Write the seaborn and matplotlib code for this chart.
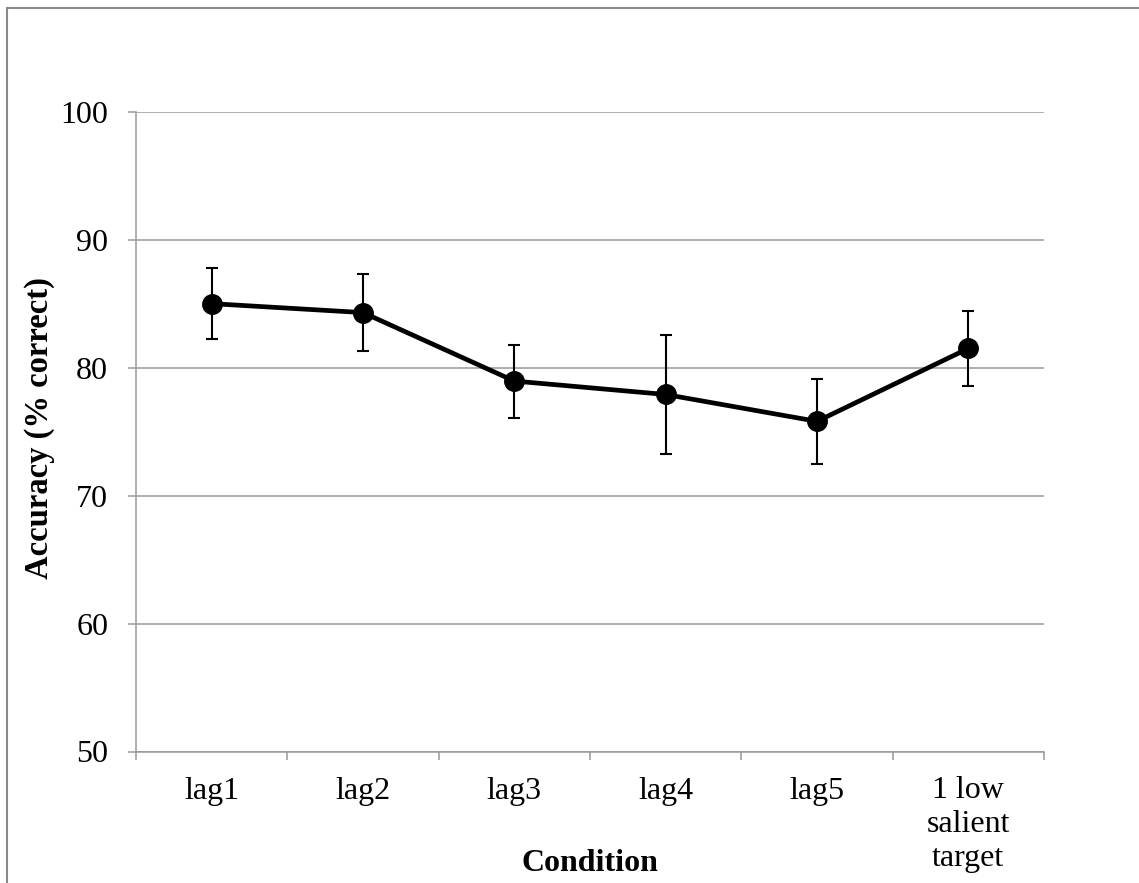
import numpy as np
import pandas as pd
import seaborn as sns
import matplotlib.pyplot as plt
from matplotlib.lines import Line2D

# values
conditions = ['lag1', 'lag2', 'lag3', 'lag4', 'lag5', '1 low\nsalient\ntarget']
accuracy = [85.0, 84.3, 78.95, 77.9, 75.8, 81.5]
sem = [2.8, 3.0, 2.85, 4.65, 3.3, 2.9]
y_ticks = [50, 60, 70, 80, 90, 100]

grid_grey = '#989898'

sns.set_style('white')
plt.rcParams['font.family'] = ['Liberation Serif', 'DejaVu Serif']
plt.rcParams['text.color'] = 'black'
plt.rcParams['xtick.labelcolor'] = 'black'
plt.rcParams['ytick.labelcolor'] = 'black'
plt.rcParams['axes.labelcolor'] = 'black'

df = pd.DataFrame({'Condition': conditions, 'Accuracy': accuracy})

fig = plt.figure(figsize=(11.39, 8.83), dpi=100)
ax = fig.add_axes([136 / 1139, 1 - 751.5 / 883, (1044 - 136) / 1139, (751.5 - 111.7) / 883])

ax.set_ylim(50, 100)
ax.set_yticks(y_ticks)
ax.yaxis.grid(True, color=grid_grey, linewidth=1.1)
ax.set_axisbelow(True)

sns.pointplot(data=df, x='Condition', y='Accuracy', color='black', ax=ax,
              markers='o', markersize=12.5, linewidth=3.4, errorbar=None)
ax.errorbar(np.arange(len(conditions)), accuracy, yerr=sem, fmt='none',
            ecolor='black', elinewidth=1.5, capsize=4, capthick=1.5, zorder=1)

ax.set_xlim(-0.5, len(conditions) - 0.5)
ax.set_xticks(np.arange(len(conditions) + 1) - 0.5, minor=False)
ax.set_xticklabels([])
ax.set_xticks(np.arange(len(conditions)), minor=True)
ax.set_xticklabels(conditions, minor=True, linespacing=1.22)
ax.tick_params(axis='x', which='major', direction='out', length=6, width=1.1,
               color=grid_grey, bottom=True)
ax.tick_params(axis='x', which='minor', length=0, pad=18, labelsize=23)
ax.tick_params(axis='y', direction='out', length=6, width=1.1, color=grid_grey,
               left=True, pad=14, labelsize=23)

for side in ['top', 'right']:
    ax.spines[side].set_visible(False)
for side in ['left', 'bottom']:
    ax.spines[side].set_color(grid_grey)
    ax.spines[side].set_linewidth(1.1)

ax.set_xlabel('Condition', fontsize=23, fontweight='bold')
ax.xaxis.set_label_coords(0.5, -0.153)
ax.set_ylabel('Accuracy (% correct)', fontsize=23.5, fontweight='bold')
ax.yaxis.set_label_coords(-0.089, 0.505)

# chart-area frame (only left and top edges are visible in the reference)
fig.add_artist(Line2D([7 / 1139, 7 / 1139], [0, 1 - 8 / 883], color='#8a8a8a', linewidth=1.5))
fig.add_artist(Line2D([7 / 1139, 1], [1 - 8 / 883, 1 - 8 / 883], color='#8a8a8a', linewidth=1.5))

fig.savefig('out.png', dpi=100)
